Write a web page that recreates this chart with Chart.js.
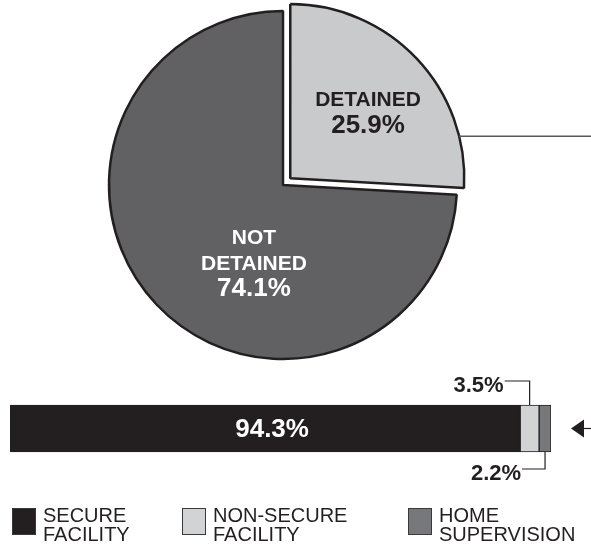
<!DOCTYPE html>
<html>
<head>
<meta charset="utf-8">
<script src="https://cdn.jsdelivr.net/npm/chart.js@4.4.1/dist/chart.umd.min.js"></script>
<style>
	body { margin: 0; background: #fff; width: 591px; height: 550px; position: relative; overflow: hidden; font-family: "Liberation Sans", Arial, sans-serif; }
	#pie-wrap { position: absolute; left: 0; top: 0; }
	#bar-wrap { position: absolute; left: 0; top: 360px; }
	.legend-item { position: absolute; top: 508px; }
	.legend-box { position: absolute; left: 0; top: 0; width: 22px; height: 25px; border: 1px solid #3a3a3c; }
	.legend-text { position: absolute; top: -2px; font-size: 20px; line-height: 19px; color: #231f20; white-space: nowrap; }
</style>
</head>
<body>
<div id="pie-wrap"><canvas id="detention-pie" width="591" height="370"></canvas></div>
<div id="bar-wrap"><canvas id="detention-bar" width="591" height="137"></canvas></div>
<div id="legend"></div>

<script>
// Pie: share of cases detained
let pieLabels = [ ['DETAINED'], ['NOT', 'DETAINED'] ];
let pieValues = [ 25.9, 74.1 ];
let pieColors = [ '#c9cacc', '#616163' ];
let pieTextColors = [ '#231f20', '#ffffff' ];

// Bar: where detained youth were held
let placeLabels = [ ['SECURE', 'FACILITY'], ['NON-SECURE', 'FACILITY'], ['HOME', 'SUPERVISION'] ];
let placeValues = [ 94.3, 3.5, 2.2 ];
let placeColors = [ '#231f20', '#d1d3d4', '#77787b' ];

let ink = '#231f20';
let font = '"Liberation Sans", Arial, sans-serif';

function pct( v ) {
	return v.toFixed( 1 ) + '%';
}

// labels inside the slices + connector line going off to the right
let pieLabelPlugin = {
	id: 'pieLabels',
	afterDatasetsDraw: function ( chart ) {
		let ctx = chart.ctx;
		let arcs = chart.getDatasetMeta( 0 ).data;
		ctx.save();
		ctx.textAlign = 'center';
		ctx.textBaseline = 'middle';

		// detained slice (pulled out; chart.js moves it by offset / 4)
		let a = arcs[0];
		let r = a.outerRadius;
		let mid = ( a.startAngle + a.endAngle ) / 2;
		let off = a.options.offset / 4;
		let cx = a.x + Math.cos( mid ) * off;
		let cy = a.y + Math.sin( mid ) * off;
		let lx = cx + Math.cos( mid ) * r * 0.615;
		let ly = cy + Math.sin( mid ) * r * 0.615;
		ctx.fillStyle = pieTextColors[0];
		ctx.font = 'bold 21px ' + font;
		ctx.fillText( pieLabels[0][0], lx, ly - 4 );
		ctx.font = 'bold 26px ' + font;
		ctx.fillText( pct( pieValues[0] ), lx, ly + 21 );

		// line leaving the detained slice
		let dy = r * 0.24;
		let sx = cx + Math.sqrt( r * r - dy * dy );
		ctx.strokeStyle = '#58585a';
		ctx.lineWidth = 1.5;
		ctx.beginPath();
		ctx.moveTo( sx, cy - dy );
		ctx.lineTo( chart.width, cy - dy );
		ctx.stroke();

		// not detained slice
		let b = arcs[1];
		let bx = b.x - r * 0.167;
		let by = b.y + r * 0.45;
		ctx.fillStyle = pieTextColors[1];
		ctx.font = 'bold 21px ' + font;
		ctx.fillText( pieLabels[1][0], bx, by - 25 );
		ctx.fillText( pieLabels[1][1], bx, by + 1 );
		ctx.font = 'bold 26px ' + font;
		ctx.fillText( pct( pieValues[1] ), bx, by + 26 );
		ctx.restore();
	}
};

new Chart(
	document.getElementById( 'detention-pie' ).getContext( '2d' ),
	{
		type: 'pie',
		data: {
			labels: pieLabels.map( l => l.join( ' ' ) ),
			datasets: [{
				data: pieValues,
				backgroundColor: pieColors,
				borderColor: ink,
				borderWidth: 2.5,
				offset: [ 40, 0 ]
			}]
		},
		options: {
			responsive: false,
			animation: false,
			devicePixelRatio: 1,
			radius: 174,
			layout: { padding: { left: 0, right: 25, top: 0, bottom: 0 } },
			plugins: {
				legend: { display: false },
				tooltip: { enabled: false }
			}
		},
		plugins: [ pieLabelPlugin ]
	}
);

// value labels, leader lines and the arrow next to the bar
let barLabelPlugin = {
	id: 'barLabels',
	afterDatasetsDraw: function ( chart ) {
		let ctx = chart.ctx;
		let segs = placeValues.map( ( v, i ) => chart.getDatasetMeta( i ).data[0] );
		ctx.save();
		ctx.textBaseline = 'middle';

		// big segment
		let s0 = segs[0];
		ctx.fillStyle = '#ffffff';
		ctx.font = 'bold 26px ' + font;
		ctx.textAlign = 'center';
		ctx.fillText( pct( placeValues[0] ), ( s0.base + s0.x ) / 2 + 7, s0.y + 1 );

		ctx.strokeStyle = ink;
		ctx.lineWidth = 1.2;
		ctx.fillStyle = ink;
		ctx.font = 'bold 22px ' + font;
		ctx.textAlign = 'right';

		// above: non-secure
		let s1 = segs[1];
		let top = s1.y - s1.height / 2;
		let m1 = ( s1.base + s1.x ) / 2;
		ctx.beginPath();
		ctx.moveTo( m1 - 25, top - 24 );
		ctx.lineTo( m1, top - 24 );
		ctx.lineTo( m1, top );
		ctx.stroke();
		ctx.fillText( pct( placeValues[1] ), m1 - 26, top - 19 );

		// below: home supervision
		let s2 = segs[2];
		let bot = s2.y + s2.height / 2;
		let m2 = ( s2.base + s2.x ) / 2;
		ctx.beginPath();
		ctx.moveTo( m2 - 23, bot + 17 );
		ctx.lineTo( m2, bot + 17 );
		ctx.lineTo( m2, bot );
		ctx.stroke();
		ctx.fillText( pct( placeValues[2] ), m2 - 24, bot + 22 );

		// arrow pointing back at the bar
		let tip = s2.x + 20;
		ctx.beginPath();
		ctx.moveTo( tip, s2.y );
		ctx.lineTo( tip + 13, s2.y - 9 );
		ctx.lineTo( tip + 13, s2.y + 9 );
		ctx.closePath();
		ctx.fill();
		ctx.beginPath();
		ctx.moveTo( tip + 12, s2.y );
		ctx.lineTo( chart.width, s2.y );
		ctx.stroke();
		ctx.restore();
	}
};

new Chart(
	document.getElementById( 'detention-bar' ).getContext( '2d' ),
	{
		type: 'bar',
		data: {
			labels: [ 'DETAINED' ],
			datasets: placeValues.map( ( v, i ) => ({
				label: placeLabels[i].join( ' ' ),
				data: [ v ],
				backgroundColor: placeColors[i],
				borderColor: ink,
				borderWidth: 1,
				borderSkipped: false,
				barThickness: 47
			}) )
		},
		options: {
			indexAxis: 'y',
			responsive: false,
			animation: false,
			devicePixelRatio: 1,
			layout: { padding: { left: 10, right: 40, top: 0, bottom: 0 } },
			scales: {
				x: { stacked: true, min: 0, max: 100, display: false },
				y: { stacked: true, display: false }
			},
			plugins: {
				legend: { display: false },
				tooltip: { enabled: false }
			}
		},
		plugins: [ barLabelPlugin ]
	}
);

// legend under the bar
let legendLeft = [ 12, 182, 408 ];
let legend = document.getElementById( 'legend' );
placeLabels.forEach( function ( lines, i ) {
	let item = document.createElement( 'div' );
	item.className = 'legend-item';
	item.style.left = legendLeft[i] + 'px';
	let box = document.createElement( 'div' );
	box.className = 'legend-box';
	box.style.background = placeColors[i];
	let text = document.createElement( 'div' );
	text.className = 'legend-text';
	text.style.left = '31px';
	text.innerHTML = lines.join( '<br>' );
	item.appendChild( box );
	item.appendChild( text );
	legend.appendChild( item );
} );
</script>
</body>
</html>
